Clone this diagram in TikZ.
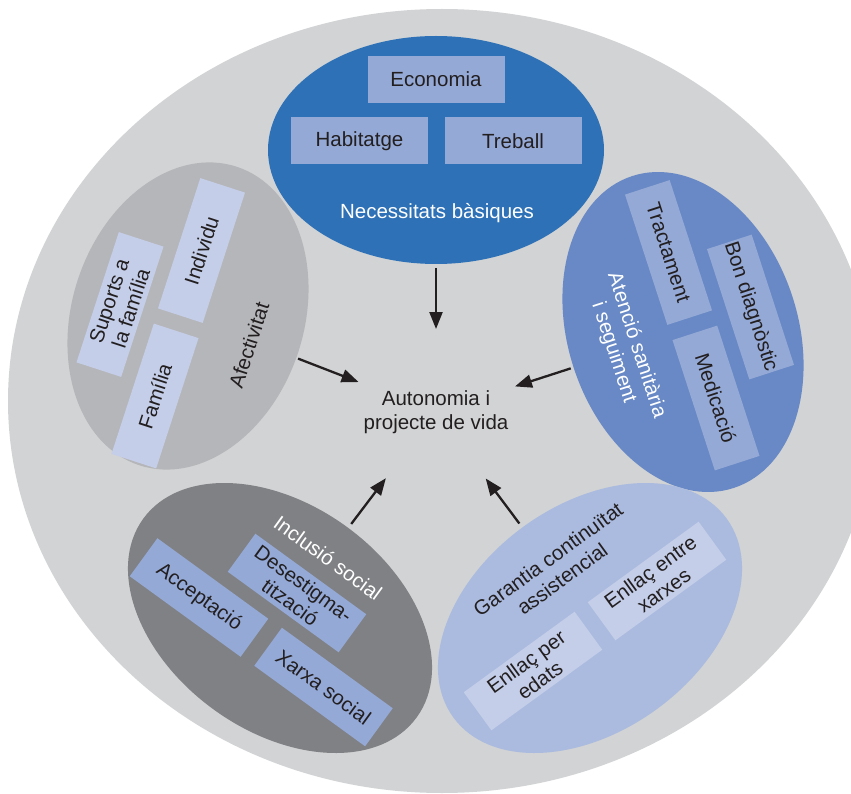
\documentclass[tikz,border=0pt]{standalone}
\usepackage{fontspec}
\setmainfont{Liberation Sans}
\usetikzlibrary{shapes.geometric,arrows.meta}
\definecolor{fonsgris}{HTML}{D1D3D4}
\definecolor{blaufort}{HTML}{2E71B7}
\definecolor{blaucaixa}{HTML}{94A9D6}
\definecolor{grisclar}{HTML}{B5B6B9}
\definecolor{blaupal}{HTML}{C4CEE8}
\definecolor{blaumig}{HTML}{6889C5}
\definecolor{grisfosc}{HTML}{808184}
\definecolor{blauclar}{HTML}{ABBBDF}
\definecolor{textfosc}{HTML}{231F20}
\begin{document}
\begin{tikzpicture}
[x=1pt,y=-1pt,
  ovalDecorate/.style={shape=ellipse,inner sep=0pt,draw=none},%
  boxDecorate/.style={shape=rectangle,minimum width=137pt,minimum height=47pt,inner sep=1pt,align=center,text=textfosc,font=\fontsize{20.5}{23}\selectfont},%
  labelDecorate/.style={align=center,inner sep=1pt,font=\fontsize{20.5}{24}\selectfont},%
  lineDecorate/.style={draw,-{Triangle[length=17pt,width=13pt]},line width=2.3pt,textfosc,shorten <=118pt,shorten >=83pt}]
\useasboundingbox (0,0) rectangle (851,794);
\clip (0,0) rectangle (851,794);
%% background
\node (fons) at (442,401) [ovalDecorate,fill=fonsgris,minimum width=868pt,minimum height=784pt] {};
%% ovals
\foreach \nodename/\x/\y/\w/\h/\ang/\col in {
  basiques/436/150/336/228/0/blaufort, afectivitat/188/316/314/232/72/grisclar,
  atencio/683/332/328/230/-72/blaumig, inclusio/280/618/338/226/-36/grisfosc,
  garantia/590/618/338/226/36/blauclar}
{
  \node (\nodename) at (\x,\y) [ovalDecorate,minimum width=\w pt,minimum height=\h pt,rotate=\ang,fill=\col] {};
}
%% boxes
\foreach \nodename/\x/\y/\ang/\col/\txt in {
  economia/436/79.5/0/blaucaixa/Economia, habitatge/359.5/141/0/blaucaixa/Habitatge,
  treball/513/141/0/blaucaixa/Treball,
  suports/120/304.5/72/blaupal/Suports a\\la família, individu/201.5/250.5/72/blaupal/Individu,
  familia/155/396/72/blaupal/Família,
  tractament/668.5/252.5/-72/blaucaixa/Tractament, diagnostic/750.5/307/-72/blaucaixa/Bon diagnòstic,
  medicacio/716/398/-72/blaucaixa/Medicació,
  desestigma/297/593/-36/blaucaixa/Desestigma-\\tització, acceptacio/199/597.5/-36/blaucaixa/Acceptació,
  xarxa/323.5/687/-36/blaucaixa/Xarxa social,
  enllacxarxes/657/581/36/blaupal/Enllaç entre\\xarxes, enllacedats/533/671/36/blaupal/Enllaç per\\edats}
{
  \node (\nodename) at (\x,\y) [boxDecorate,rotate=\ang,fill=\col] {\txt};
}
%% labels
\foreach \nodename/\x/\y/\ang/\col/\txt in {
  lbasiques/437/213/0/white/Necessitats bàsiques, lafectivitat/249/345/72/textfosc/Afectivitat,
  latencio/625/349/-72/white/Atenció sanitària\\i seguiment, linclusio/328/558/-36/white/Inclusió social,
  lgarantia/555/569/36/textfosc/Garantia continuïtat\\assistencial}
{
  \node (\nodename) at (\x,\y) [labelDecorate,rotate=\ang,text=\col] {\txt};
}
\node (autonomia) at (436,412) [labelDecorate,text=textfosc] {Autonomia i\\projecte de vida};
%% arrows
\path
\foreach \startnode in {basiques, afectivitat, atencio, inclusio, garantia}
{
  (\startnode.center) edge[lineDecorate] (autonomia.center)
};
\end{tikzpicture}
\end{document}
